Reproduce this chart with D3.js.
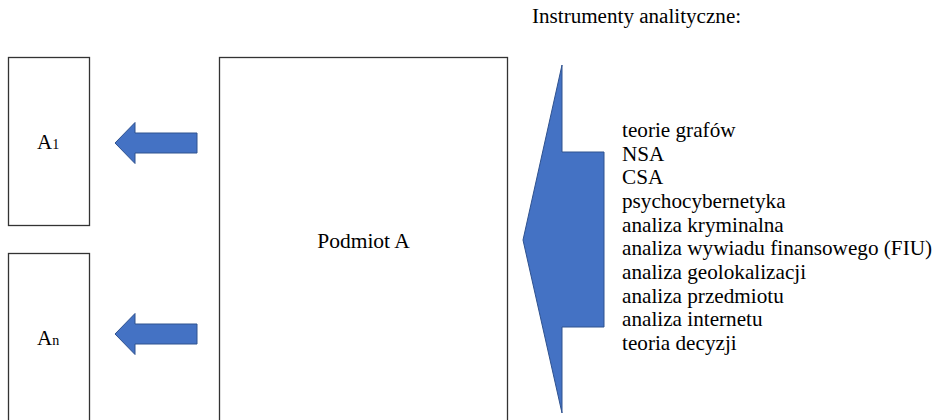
<!DOCTYPE html>
<html>
<head>
<meta charset="utf-8">
<script src="https://cdn.jsdelivr.net/npm/d3@7"></script>
<style>
  body { margin: 0; background: #fff; }
</style>
</head>
<body>
<svg id="chart"></svg>
<script>
// Diagram: Podmiot A -> A1..An, analytic instruments feeding in
const title = "Instrumenty analityczne:";
const instruments = [
    "teorie grafów",
    "NSA",
    "CSA",
    "psychocybernetyka",
    "analiza kryminalna",
    "analiza wywiadu finansowego (FIU)",
    "analiza geolokalizacji",
    "analiza przedmiotu",
    "analiza internetu",
    "teoria decyzji"
];
const targets = [
    { base: "A", sub: "1" },
    { base: "A", sub: "n" }
];
const subjectLabel = "Podmiot A";

const width = 941,
    height = 420;
const blue = "#4472C4",
    blueEdge = "#2F528F";
const serif = "'Liberation Serif', 'Times New Roman', Tinos, serif";

const svg = d3.select("#chart")
    .attr("width", width)
    .attr("height", height)
    .style("font-family", serif);

// vertical scale for the instrument list
const yList = d3.scaleLinear()
    .domain([0, instruments.length - 1])
    .range([137, 350]);

// target boxes placed by band scale
const yTargets = d3.scaleBand()
    .domain(targets.map((d, i) => i))
    .range([57, 421])
    .paddingInner(28 / 196);

const line = d3.line();

// left pointing block arrow
function leftArrow(tipX, cy, headLen, headHalf, shaftHalf, endX) {
    const hx = tipX + headLen;
    return line([
        [tipX, cy], [hx, cy - headHalf], [hx, cy - shaftHalf], [endX, cy - shaftHalf],
        [endX, cy + shaftHalf], [hx, cy + shaftHalf], [hx, cy + headHalf]
    ]) + "Z";
}

// target boxes
const tg = svg.selectAll("g.target")
    .data(targets)
    .enter()
    .append("g")
    .attr("class", "target");

tg.append("rect")
    .attr("x", 8.5)
    .attr("y", (d, i) => yTargets(i) + 0.5)
    .attr("width", 81)
    .attr("height", yTargets.bandwidth())
    .attr("fill", "#fff")
    .attr("stroke", "#333")
    .attr("stroke-width", 1.3);

const tl = tg.append("text")
    .attr("x", 37)
    .attr("y", (d, i) => yTargets(i) + yTargets.bandwidth() / 2 + 8)
    .style("font-family", serif)
    .style("font-size", "21px");
tl.append("tspan").text(d => d.base);
tl.append("tspan").style("font-size", "14px").text(d => d.sub);

// small arrows pointing at targets
svg.selectAll("path.small")
    .data(targets)
    .enter()
    .append("path")
    .attr("class", "small")
    .attr("d", (d, i) => leftArrow(115, yTargets(i) + yTargets.bandwidth() / 2 + (i ? -3 : 2), 20, 20.5, 10, 197))
    .attr("fill", blue)
    .attr("stroke", blueEdge)
    .attr("stroke-width", 1);

// subject box
svg.append("rect")
    .attr("x", 219.5)
    .attr("y", 57.5)
    .attr("width", 288)
    .attr("height", 400)
    .attr("fill", "#fff")
    .attr("stroke", "#333")
    .attr("stroke-width", 1.3);

svg.append("text")
    .attr("x", 363.5)
    .attr("y", 248)
    .attr("text-anchor", "middle")
    .style("font-family", serif)
    .style("font-size", "21.5px")
    .text(subjectLabel);

// big arrow with instruments
svg.append("path")
    .attr("d", line([
        [523, 240], [562, 65], [562, 152], [604, 152],
        [604, 327], [562, 327], [562, 413]
    ]) + "Z")
    .attr("fill", blue)
    .attr("stroke", blueEdge)
    .attr("stroke-width", 1);

svg.append("text")
    .attr("x", 532)
    .attr("y", 23)
    .style("font-family", serif)
    .style("font-size", "21.1px")
    .text(title);

svg.selectAll("text.item")
    .data(instruments)
    .enter()
    .append("text")
    .attr("class", "item")
    .attr("x", 622)
    .attr("y", (d, i) => yList(i))
    .style("font-family", serif)
    .style("font-size", "21.2px")
    .text(d => d);
</script>
</body>
</html>
